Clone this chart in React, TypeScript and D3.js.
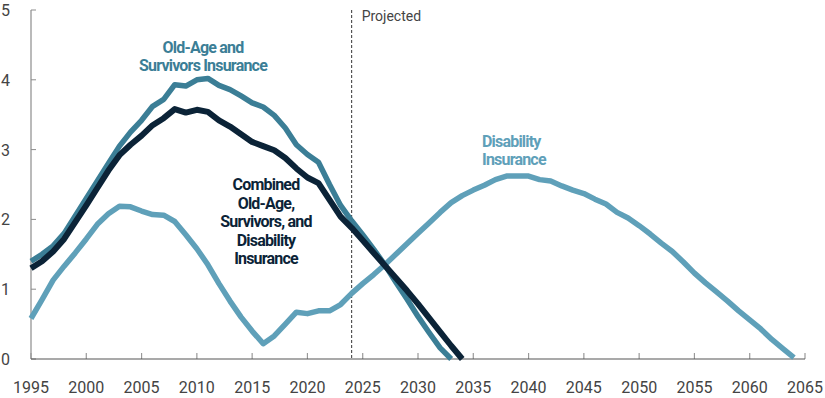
import React from "react";
import * as d3 from "d3";

const oasiYears = d3.range(1995, 2034);
const oasiValues = [
  1.4, 1.5, 1.62, 1.8, 2.05, 2.3, 2.55, 2.8, 3.05, 3.25, 3.42, 3.62, 3.72, 3.93, 3.91, 4.0, 4.02, 3.92, 3.86, 3.77,
  3.67, 3.61, 3.49, 3.31, 3.07, 2.93, 2.82, 2.5, 2.2, 1.98, 1.78, 1.57, 1.35, 1.1, 0.86, 0.61, 0.38, 0.16, 0.0,
];

const combinedYears = d3.range(1995, 2035);
const combinedValues = [
  1.3, 1.4, 1.54, 1.72, 1.96, 2.2, 2.45, 2.7, 2.92, 3.07, 3.2, 3.35, 3.45, 3.58, 3.53, 3.57, 3.54, 3.42, 3.33, 3.22,
  3.11, 3.05, 2.99, 2.88, 2.73, 2.6, 2.52, 2.28, 2.04, 1.88, 1.7, 1.52, 1.34, 1.16, 0.98, 0.79, 0.59, 0.39, 0.19, 0.0,
];

const diYears = d3.range(1995, 2065);
const diValues = [
  0.58, 0.85, 1.13, 1.33, 1.52, 1.72, 1.93, 2.08, 2.19, 2.18, 2.12, 2.07, 2.06, 1.97, 1.78, 1.58, 1.35, 1.08, 0.83, 0.6,
  0.4, 0.22, 0.33, 0.5, 0.67, 0.65, 0.69, 0.69, 0.78, 0.94, 1.08, 1.21, 1.35, 1.5, 1.65, 1.8, 1.95, 2.1, 2.24, 2.34,
  2.42, 2.49, 2.57, 2.62, 2.62, 2.62, 2.57, 2.55, 2.48, 2.42, 2.37, 2.29, 2.22, 2.1, 2.02, 1.91, 1.79, 1.66, 1.54, 1.39,
  1.23, 1.09, 0.96, 0.83, 0.69, 0.56, 0.43, 0.28, 0.15, 0.02,
];

const xTicks = d3.range(1995, 2066, 5);
const yTicks = [0, 1, 2, 3, 4, 5];
const projectedYear = 2024;

const W = 825;
const H = 398;
const M = { left: 31, right: 20, top: 10, bottom: 39 };

const C_OASI = "#3b7e96";
const C_DI = "#5fa0b9";
const C_COMB = "#0b2337";
const TEXT = "#444";
const FONT = "Roboto, 'Noto Sans', sans-serif";

export default function App() {
  const x = d3.scaleLinear().domain([1995, 2065]).range([M.left, W - M.right]);
  const y = d3.scaleLinear().domain([0, 5]).range([H - M.bottom, M.top]);

  const line = d3
    .line<[number, number]>()
    .x((d) => x(d[0]))
    .y((d) => y(d[1]));

  const oasi = line(oasiYears.map((yr, i) => [yr, oasiValues[i]]));
  const comb = line(combinedYears.map((yr, i) => [yr, combinedValues[i]]));
  const di = line(diYears.map((yr, i) => [yr, diValues[i]]));

  return (
    <svg
      width={W}
      height={H}
      style={{ position: "absolute", left: 0, top: 0, background: "#fff" }}
      fontFamily={FONT}
    >
      {/* y axis */}
      <line x1={x(1995)} x2={x(1995)} y1={y(5)} y2={y(0)} stroke="#8c8c8c" strokeWidth={1.2} />
      {yTicks.map((t) => (
        <g key={"y" + t}>
          <line x1={x(1995)} x2={x(1995) + 5} y1={y(t)} y2={y(t)} stroke="#8c8c8c" strokeWidth={1} />
          <text x={10} y={y(t) + 6} textAnchor="end" fontSize={16} fill={TEXT}>
            {t}
          </text>
        </g>
      ))}

      {/* x axis */}
      {xTicks.map((t) => (
        <g key={"x" + t}>
          <line x1={x(t)} x2={x(t)} y1={y(0)} y2={y(0) - 6} stroke="#999" strokeWidth={1.2} />
          <text x={x(t)} y={393} textAnchor="middle" fontSize={16} fill={TEXT}>
            {t}
          </text>
        </g>
      ))}
      <line x1={x(1995)} x2={x(2065)} y1={y(0)} y2={y(0)} stroke="#555" strokeWidth={1.2} />

      {/* projected */}
      <line
        x1={x(projectedYear)}
        x2={x(projectedYear)}
        y1={y(5)}
        y2={y(0)}
        stroke="#333"
        strokeWidth={1}
        strokeDasharray="3,2"
      />
      <text x={x(projectedYear) + 10} y={21} fontSize={14} fill={TEXT}>
        Projected
      </text>

      {/* lines */}
      <path d={di ?? ""} fill="none" stroke={C_DI} strokeWidth={5.5} strokeLinejoin="round" />
      <path d={oasi ?? ""} fill="none" stroke={C_OASI} strokeWidth={5.5} strokeLinejoin="round" />
      <path d={comb ?? ""} fill="none" stroke={C_COMB} strokeWidth={6} strokeLinejoin="round" />

      {/* labels */}
      <g fontSize={16} fontWeight={700} letterSpacing={-0.8} textAnchor="middle" fill={C_OASI}>
        <text x={203} y={53}>Old-Age and</text>
        <text x={203} y={71}>Survivors Insurance</text>
      </g>
      <g fontSize={16} fontWeight={700} letterSpacing={-0.8} textAnchor="middle" fill={C_COMB}>
        <text x={266} y={190}>Combined</text>
        <text x={266} y={208.5}>Old-Age,</text>
        <text x={266} y={227}>Survivors, and</text>
        <text x={266} y={245.5}>Disability</text>
        <text x={266} y={264}>Insurance</text>
      </g>
      <g fontSize={16} fontWeight={700} letterSpacing={-0.8} textAnchor="start" fill={C_DI}>
        <text x={482} y={146.5}>Disability</text>
        <text x={482} y={165}>Insurance</text>
      </g>
    </svg>
  );
}
